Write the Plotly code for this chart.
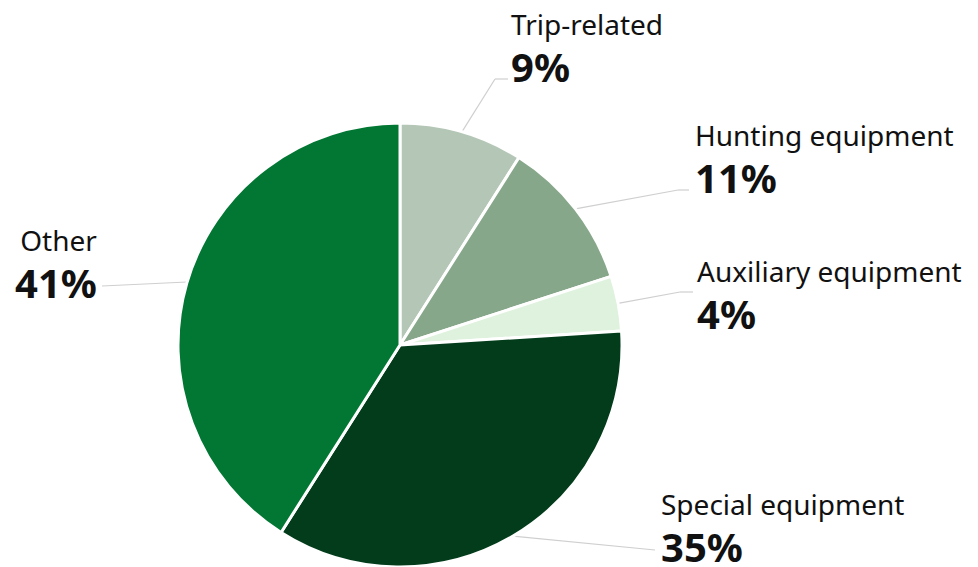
import math
import plotly.graph_objects as go

categories = ["Trip-related", "Hunting equipment", "Auxiliary equipment", "Special equipment", "Other"]
shares = [9, 11, 4, 35, 41]
colors = ["#b4c6b6", "#87a78b", "#def2de", "#033c1b", "#017733"]
pct_labels = ["9%", "11%", "4%", "35%", "41%"]

# page body has an 8px margin, so the figure is drawn 8px in from the window edge
OFF = 8
W, H = 978 - OFF, 567 - OFF
CX, CY = 400 - OFF, 345 - OFF      # pie centre in window px
R = min(H - CY, 225)

# label anchor (x, name centre y, pct centre y) and leader elbow points, in window px
label_pos = {
    "Trip-related": (509, 29, 70),
    "Hunting equipment": (693, 140, 181),
    "Auxiliary equipment": (695, 275, 318),
    "Special equipment": (659, 507, 551),
    "Other": (99, 244, 286),
}
elbows = {
    "Trip-related": [(495, 79), (508, 79)],
    "Hunting equipment": [(678, 190), (689, 190)],
    "Auxiliary equipment": [(680, 292), (693, 292)],
    "Special equipment": [(655, 550)],
    "Other": [(102, 286)],
}

def px2paper(x, y):
    return (x - OFF) / W, 1 - (y - OFF) / H

fig = go.Figure(go.Pie(
    labels=categories, values=shares, sort=False, direction="clockwise", rotation=0,
    marker=dict(colors=colors, line=dict(color="white", width=3)),
    textinfo="none", hoverinfo="label+percent", showlegend=False,
    domain=dict(x=[(CX - R) / W, (CX + R) / W], y=[(H - CY - R) / H, (H - CY + R) / H]),
))

annotations = []
shapes = []
total = sum(shares)
cum = 0
for cat, v, pl in zip(categories, shares, pct_labels):
    mid = (cum + v / 2) / total * 2 * math.pi
    cum += v
    lx, ny, py = label_pos[cat]
    anchor = "right" if cat == "Other" else "left"
    fx, fy = px2paper(lx, (ny + py) / 2)
    text = ("<span style='font-size:28px'>" + cat + "</span><br>"
            "<span style='font-size:40px'><b>" + pl + "</b></span>")
    annotations.append(dict(x=fx, y=fy, xref="paper", yref="paper", text=text, showarrow=False,
                            xanchor=anchor, yanchor="middle", align=anchor,
                            font=dict(family="Noto Sans", size=36, color="#111")))
    # leader line start on pie edge (window px)
    if cat == "Other":
        ey = 282
        ex = (CX + OFF) - math.sqrt(R * R - (ey - (CY + OFF)) ** 2)
    else:
        ex = (CX + OFF) + R * math.sin(mid)
        ey = (CY + OFF) - R * math.cos(mid)
    pts = [(ex, ey)] + elbows[cat]
    for (x0, y0), (x1, y1) in zip(pts[:-1], pts[1:]):
        a0, b0 = px2paper(x0, y0)
        a1, b1 = px2paper(x1, y1)
        shapes.append(dict(type="line", xref="paper", yref="paper", x0=a0, y0=b0, x1=a1, y1=b1,
                           line=dict(color="#cfcfcf", width=1.2), layer="below"))

fig.update_layout(width=W, height=H, margin=dict(l=0, r=0, t=0, b=0),
                  paper_bgcolor="white", plot_bgcolor="white",
                  annotations=annotations, shapes=shapes)
fig.write_html("out.html")
